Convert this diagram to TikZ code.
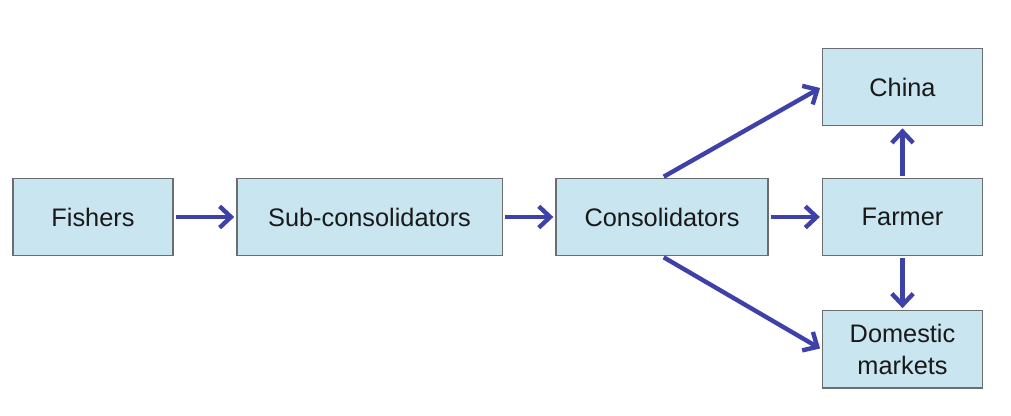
\documentclass[tikz,border=0pt]{standalone}
\usepackage{fontspec}
\setmainfont{Liberation Sans}
\usetikzlibrary{arrows.meta}
\definecolor{boxfill}{HTML}{C8E5F0}
\definecolor{boxline}{HTML}{6A6E70}
\definecolor{arrowc}{HTML}{3E42A8}
\begin{document}
\begin{tikzpicture}[x=0.75pt,y=-0.75pt,
  box/.style={draw=boxline, line width=1pt, fill=boxfill, minimum height=58pt, inner sep=0pt, align=center, font=\fontsize{19}{23.5}\selectfont, text=black!90},
  flow/.style={draw=arrowc, line width=3.3pt, shorten >=1.5pt, shorten <=1.5pt, -{Straight Barb[length=8.5pt,width=16pt,line width=3.3pt]}}]
\useasboundingbox (0,0) rectangle (1011,416);
\node[box, minimum width=120pt] (fish) at (93,217) {Fishers};
\node[box, minimum width=199pt] (sub) at (369.5,217) {Sub-consolidators};
\node[box, minimum width=159pt] (cons) at (662,217) {Consolidators};
\node[box, minimum width=120pt] (farm) at (902.5,217) {Farmer};
\node[box, minimum width=120pt] (china) at (902.5,87) {China};
\node[box, minimum width=120pt] (dom) at (902.5,349.5) {Domestic\\markets};
\draw[flow] (fish) -- (sub);
\draw[flow] (sub) -- (cons);
\draw[flow] (cons) -- (farm);
\draw[flow] (cons.north) -- (china.west);
\draw[flow] (cons.south) -- (dom.west);
\draw[flow] (farm) -- (china);
\draw[flow] (farm) -- (dom);
\end{tikzpicture}
\end{document}
